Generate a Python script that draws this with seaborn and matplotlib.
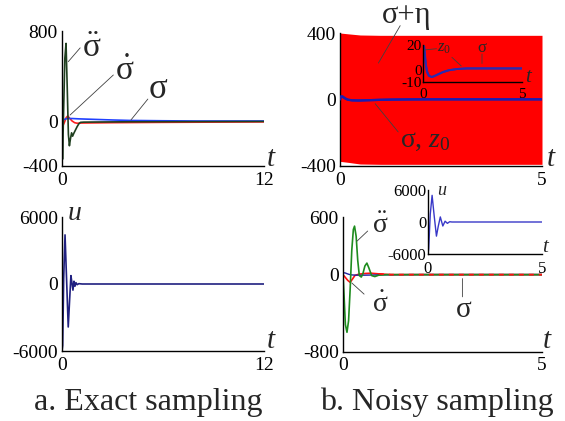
"""
Sliding-mode style time responses: exact vs noisy sampling (4 panels + 2 insets).
"""
import numpy as np
import matplotlib
matplotlib.use("Agg")
import matplotlib.pyplot as plt
import seaborn as sns

# ---- data --------------------------------------------------------------
# a. exact sampling, top panel
t_dd_a = [0, 0.03, 0.1, 0.17, 0.24, 0.31, 0.38, 0.44, 0.5, 0.57, 0.63, 0.7, 0.8, 0.9, 1.0, 1.1, 1.3, 2, 4, 12]
dd_a   = [0, -340, 120, 560, 690, 300, -120, -220, -160, -105, -135, -110, -80, -50, -25, -12, -10, -9, -7, -4]
t_d_a  = [0, 0.06, 0.15, 0.25, 0.34, 0.45, 0.6, 0.75, 0.9, 1.1, 3, 6, 12]
d_a    = [0, -40, -10, 30, 45, 25, 0, -15, -20, -18, -15, -12, -8]
t_s_a  = [0, 0.1, 0.3, 0.6, 1, 2, 3, 4, 6, 8, 12]
s_a    = [0, 12, 22, 22, 19, 14, 9, 5, 2, 0, 0]
# a. exact sampling, control u
t_u_a = [0, 0.04, 0.1, 0.18, 0.27, 0.37, 0.45, 0.53, 0.59, 0.65, 0.71, 0.77, 0.83, 0.9, 1.0, 1.2, 12]
u_a   = [-6000, -5500, 500, 4400, 500, -3850, -1500, 750, 100, -550, 250, -200, 120, -60, 30, 0, 0]

# b. noisy sampling, top panel: noise band sigma+eta and sigma / z0
t_env   = [0, 0.2, 0.5, 1, 5]
eta_hi  = [400, 395, 388, 386, 386]
eta_lo  = [-372, -378, -388, -390, -390]
t_s_b   = [0, 0.03, 0.06, 0.1, 0.15, 0.2, 0.3, 0.45, 0.6, 0.8, 1.0, 1.3, 1.7, 2.2, 3, 5]
s_b     = [15, 19, 17, 10, 3, -2, -5, -6, -5, -3.5, -2, -0.5, 0.5, 1, 1, 1]
z0_b    = [0, 18, 19, 12, 4, -1, -5, -6, -5, -3.5, -2, -0.5, 0.5, 1, 1, 1]
# b. noisy sampling, bottom panel
t_dd_b = [0, 0.03, 0.06, 0.1, 0.14, 0.18, 0.22, 0.26, 0.29, 0.33, 0.37, 0.41, 0.46, 0.5, 0.55, 0.6, 0.65, 0.72, 0.8, 0.9, 1.1, 5]
dd_b   = [0, -250, -520, -600, -480, -150, 250, 470, 505, 400, 150, -10, -25, 10, 90, 120, 70, -10, -20, -5, 0, 0]
t_d_b  = [0, 0.06, 0.12, 0.18, 0.24, 0.3, 0.4, 0.55, 0.7, 0.9, 1.2, 5]
d_b    = [0, -30, -60, -80, -45, -8, 5, 12, 15, 8, 0, 0]
t_u_b  = [0, 0.03, 0.1, 0.18, 0.27, 0.37, 0.45, 0.54, 0.65, 0.75, 0.85, 0.95, 1.05, 5]
u_b    = [-6000, -5000, 1500, 5000, 1200, -2650, -800, 950, -750, 150, -250, 50, 0, 0]

# ---- style --------------------------------------------------------------
sns.set_style("white")
plt.rcParams["font.family"] = ["Liberation Serif", "DejaVu Serif"]
plt.rcParams["mathtext.fontset"] = "custom"
plt.rcParams["mathtext.rm"] = "Liberation Serif"
plt.rcParams["mathtext.it"] = "Liberation Serif:italic"
plt.rcParams["mathtext.bf"] = "Liberation Serif:bold"
plt.rcParams["axes.unicode_minus"] = False

W, H = 565, 421
fig = plt.figure(figsize=(W / 100, H / 100), dpi=100)


def px_axes(l, t, r, b):
    return fig.add_axes([l / W, 1 - b / H, (r - l) / W, (b - t) / H])


def style(ax, xlim, ylim, xt, yt, xminor, yminor, fs=14):
    ax.set_xlim(xlim); ax.set_ylim(ylim)
    ax.set_facecolor("none")
    for s in ["top", "right"]:
        ax.spines[s].set_visible(False)
    for s in ["left", "bottom"]:
        ax.spines[s].set_color("black"); ax.spines[s].set_linewidth(1.0)
    ax.set_xticks(xt); ax.set_xticklabels([f"{v:g}" for v in xt])
    ax.set_yticks(yt); ax.set_yticklabels([f"{v:g}" for v in yt])
    ax.set_xticks(xminor, minor=True); ax.set_yticks(yminor, minor=True)
    ax.tick_params(which="major", length=0, labelsize=fs, colors="black")
    ax.tick_params(axis="x", which="major", pad=4)
    ax.tick_params(axis="y", which="major", pad=3)
    ax.tick_params(which="minor", direction="in", length=3, width=0.7, color="black")
    ax.set_xlabel(""); ax.set_ylabel("")


def line(ax, x, y, color, lw=1.2, **kw):
    sns.lineplot(x=x, y=y, ax=ax, color=color, lw=lw, estimator=None, sort=False, legend=False, **kw)


def leader(ax, p0, p1):
    ax.annotate("", xy=p1, xytext=p0, arrowprops=dict(arrowstyle="-", color="#404040", lw=0.6,
                                                      shrinkA=0, shrinkB=0), annotation_clip=False)


def tlabel(ax, x, y, s="t", fs=21):
    ax.text(x, y, s, transform=ax.transAxes, fontsize=fs, style="italic", ha="left", va="baseline")


SDD = r"$\ddot{\mathrm{\sigma}}$"
SD = r"$\dot{\mathrm{\sigma}}$"
SG = "σ"

# ---- a. top -------------------------------------------------------------
ax = px_axes(62, 31, 264, 166)
line(ax, t_d_a, d_a, "#ff2020")
line(ax, t_s_a, s_a, "#2040ff")
line(ax, t_dd_a, dd_a, "#1f3f1f")
style(ax, (0, 12), (-400, 800), [0, 12], [-400, 0, 800], [2, 4, 6, 8, 10], [-200, 200, 400, 600])
ax.text(1.17, 572, SDD, fontsize=24, ha="left", va="baseline")
leader(ax, (1.08, 650), (0.37, 527))
ax.text(3.15, 364, SD, fontsize=24, ha="left", va="baseline")
leader(ax, (3.05, 409), (0.48, 53))
ax.text(5.13, 202, SG, fontsize=25, ha="left", va="baseline")
leader(ax, (5.1, 195), (4.1, 10))
tlabel(ax, 1.015, 0.0)

# ---- a. bottom ----------------------------------------------------------
ax = px_axes(62, 217, 264, 351)
line(ax, t_u_a, u_a, "#202080")
style(ax, (0, 12), (-6000, 6000), [0, 12], [-6000, 0, 6000], [2, 4, 6, 8, 10], [-4000, -2000, 2000, 4000])
tlabel(ax, 1.015, 0.02)
tlabel(ax, 0.03, 0.978, "u", fs=20)

# ---- b. top -------------------------------------------------------------
ax = px_axes(340, 33, 542, 166)
ax.fill_between(t_env, eta_lo, eta_hi, color="#ff0000", lw=0, zorder=1)
line(ax, t_s_b, z0_b, "#1c1cb0", lw=1.6, zorder=3)
line(ax, t_s_b, s_b, "#1c1cb0", lw=1.6, zorder=3)
style(ax, (0, 5), (-400, 400), [0, 5], [-400, 0, 400], np.arange(0.5, 5, 0.5), [-200, 200])
ax.text(1.66, 462, "σ+η", fontsize=22, ha="center", va="baseline")
leader(ax, (1.49, 444), (0.95, 219))
ax.text(1.49, -285, "σ, $z_0$", fontsize=20, ha="left", va="baseline")
leader(ax, (1.44, -195), (0.87, -25))
tlabel(ax, 1.025, 0.0)

ins = px_axes(423, 45, 522, 82)
line(ins, t_s_b, z0_b, "#2a2ab0", lw=1.4)
line(ins, t_s_b, s_b, "#2a2ab0", lw=1.4)
style(ins, (0, 5), (-10, 20), [0, 5], [-10, 0, 20], [1, 2, 3, 4], [10], fs=11)
ins.tick_params(axis="x", which="major", pad=4)
ins.tick_params(axis="y", which="major", pad=1)
ins.text(0.71, 14.5, r"$z_0$", fontsize=12, ha="left", va="baseline")
leader(ins, (0.68, 17), (0.08, 16))
leader(ins, (1.46, 10), (1.93, 3))
ins.text(2.98, 14.3, SG, fontsize=12, ha="center", va="baseline")
leader(ins, (2.98, 12.7), (2.98, 5))
tlabel(ins, 1.03, 0.0, fs=15)

# ---- b. bottom ----------------------------------------------------------
ax = px_axes(343, 217, 542, 351.5)
line(ax, t_d_b, d_b, "#ff1010")
line(ax, t_s_b, s_b, "#2020a0", lw=1.0)
line(ax, t_dd_b, dd_b, "#1e8c1e")
td = np.array(t_d_b); vd = np.array(d_b)
ax.plot(td[td >= 0.9], vd[td >= 0.9], color="#ff1010", lw=1.2, dashes=(3, 3))
style(ax, (0, 5), (-800, 600), [0, 5], [-800, 0, 600], np.arange(0.5, 5, 0.5), [-600, -400, -200, 200, 400])
ax.text(0.73, 430, SDD, fontsize=20, ha="left", va="baseline")
leader(ax, (0.62, 454), (0.355, 350))
ax.text(0.73, -390, SD, fontsize=20, ha="left", va="baseline")
leader(ax, (0.53, -203), (0.22, -86))
ax.text(3.04, -443, SG, fontsize=21, ha="center", va="baseline")
leader(ax, (3.0, -231), (3.0, -41))
tlabel(ax, 1.005, 0.026)

ins = px_axes(428, 190, 542, 254)
line(ins, t_u_b, u_b, "#3838c8", lw=1.0)
style(ins, (0, 5), (-6000, 6000), [0, 5], [-6000, 0, 6000], [1, 2, 3, 4], [-3000, 3000], fs=12)
ins.tick_params(axis="x", which="major", pad=5)
ins.tick_params(axis="y", which="major", pad=1)
tlabel(ins, 1.0, 0.03, fs=15)
tlabel(ins, 0.076, 0.92, "u", fs=13)

# ---- captions -----------------------------------------------------------
fig.text(148 / W, 1 - 410 / H, "a. Exact sampling", fontsize=23, ha="center", va="baseline")
fig.text(437 / W, 1 - 410 / H, "b. Noisy sampling", fontsize=23, ha="center", va="baseline")

fig.savefig("out.png", dpi=100)
